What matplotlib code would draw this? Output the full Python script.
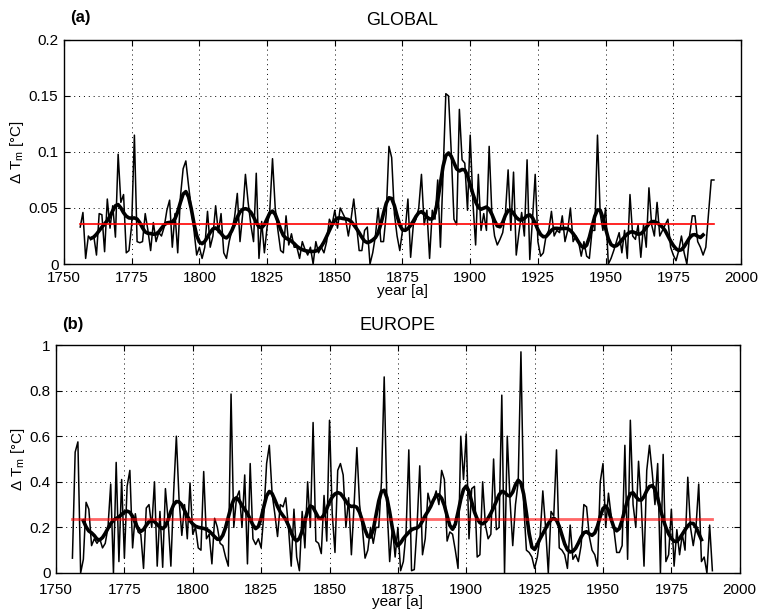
import matplotlib
matplotlib.use("Agg")
import matplotlib.pyplot as plt
import numpy as np
from matplotlib.ticker import FormatStrFormatter

plt.rcParams["font.family"] = ["Liberation Sans", "DejaVu Sans"]
plt.rcParams["mathtext.default"] = "regular"
plt.rcParams["xtick.direction"] = "in"
plt.rcParams["ytick.direction"] = "in"
plt.rcParams["xtick.top"] = True
plt.rcParams["ytick.right"] = True

years = np.arange(1756, 1991)

# annual values
glob_vals = [
    0.033, 0.046, 0.005, 0.025, 0.022, 0.025, 0.008, 0.045, 0.044, 0.011,  # 1756-1765
    0.058, 0.032, 0.052, 0.024, 0.098, 0.055, 0.062, 0.010, 0.012, 0.035,  # 1766-1775
    0.115, 0.020, 0.019, 0.020, 0.045, 0.030, 0.012, 0.037, 0.020, 0.028,  # 1776-1785
    0.025, 0.033, 0.048, 0.057, 0.015, 0.045, 0.010, 0.060, 0.085, 0.092,  # 1786-1795
    0.070, 0.050, 0.030, 0.008, 0.015, 0.005, 0.015, 0.047, 0.015, 0.025,  # 1796-1805
    0.052, 0.028, 0.045, 0.010, 0.005, 0.020, 0.030, 0.042, 0.063, 0.020,  # 1806-1815
    0.045, 0.080, 0.055, 0.035, 0.020, 0.081, 0.005, 0.038, 0.010, 0.033,  # 1816-1825
    0.048, 0.094, 0.050, 0.030, 0.012, 0.010, 0.043, 0.017, 0.027, 0.015,  # 1826-1835
    0.015, 0.005, 0.020, 0.013, 0.008, 0.015, 0.000, 0.020, 0.010, 0.015,  # 1836-1845
    0.010, 0.020, 0.040, 0.035, 0.048, 0.032, 0.050, 0.045, 0.040, 0.025,  # 1846-1855
    0.040, 0.058, 0.035, 0.012, 0.012, 0.030, 0.033, 0.000, 0.010, 0.025,  # 1856-1865
    0.050, 0.020, 0.020, 0.045, 0.105, 0.095, 0.045, 0.025, 0.012, 0.030,  # 1866-1875
    0.030, 0.058, 0.006, 0.035, 0.040, 0.050, 0.080, 0.035, 0.048, 0.005,  # 1876-1885
    0.048, 0.040, 0.075, 0.015, 0.082, 0.152, 0.150, 0.100, 0.040, 0.035,  # 1886-1895
    0.138, 0.093, 0.090, 0.048, 0.115, 0.055, 0.017, 0.080, 0.030, 0.045,  # 1896-1905
    0.030, 0.105, 0.045, 0.025, 0.017, 0.022, 0.028, 0.045, 0.084, 0.030,  # 1906-1915
    0.082, 0.008, 0.028, 0.046, 0.025, 0.093, 0.004, 0.040, 0.080, 0.020,  # 1916-1925
    0.007, 0.010, 0.025, 0.030, 0.047, 0.025, 0.030, 0.028, 0.043, 0.020,  # 1926-1935
    0.030, 0.050, 0.020, 0.025, 0.020, 0.007, 0.020, 0.007, 0.005, 0.030,  # 1936-1945
    0.030, 0.115, 0.045, 0.030, 0.050, 0.000, 0.005, 0.012, 0.020, 0.028,  # 1946-1955
    0.010, 0.030, 0.005, 0.062, 0.025, 0.022, 0.035, 0.006, 0.035, 0.015,  # 1956-1965
    0.068, 0.035, 0.025, 0.055, 0.025, 0.030, 0.035, 0.040, 0.015, 0.008,  # 1966-1975
    0.003, 0.012, 0.025, 0.010, 0.000, 0.025, 0.043, 0.043, 0.020, 0.015,  # 1976-1985
    0.008, 0.015, 0.045, 0.075, 0.075,                                     # 1986-1990
]
glob_mean = 0.0355

euro_vals = [
    0.065, 0.530, 0.575, 0.000, 0.060, 0.310, 0.280, 0.120, 0.150, 0.130,  # 1756-1765
    0.150, 0.110, 0.130, 0.200, 0.390, 0.000, 0.485, 0.050, 0.410, 0.065,  # 1766-1775
    0.380, 0.450, 0.110, 0.260, 0.180, 0.170, 0.020, 0.285, 0.300, 0.200,  # 1776-1785
    0.400, 0.030, 0.270, 0.025, 0.370, 0.230, 0.030, 0.350, 0.600, 0.320,  # 1786-1795
    0.165, 0.300, 0.150, 0.395, 0.170, 0.200, 0.110, 0.100, 0.445, 0.150,  # 1796-1805
    0.170, 0.040, 0.240, 0.200, 0.130, 0.120, 0.070, 0.030, 0.785, 0.200,  # 1806-1815
    0.330, 0.360, 0.200, 0.430, 0.040, 0.480, 0.150, 0.125, 0.150, 0.110,  # 1816-1825
    0.260, 0.480, 0.560, 0.350, 0.260, 0.160, 0.300, 0.290, 0.330, 0.200,  # 1826-1835
    0.030, 0.280, 0.070, 0.010, 0.270, 0.110, 0.400, 0.200, 0.660, 0.140,  # 1836-1845
    0.130, 0.085, 0.340, 0.140, 0.670, 0.260, 0.090, 0.450, 0.480, 0.430,  # 1846-1855
    0.200, 0.330, 0.080, 0.300, 0.550, 0.300, 0.200, 0.065, 0.100, 0.200,  # 1856-1865
    0.130, 0.200, 0.200, 0.400, 0.860, 0.300, 0.050, 0.200, 0.070, 0.200,  # 1866-1875
    0.010, 0.050, 0.180, 0.540, 0.010, 0.015, 0.200, 0.470, 0.080, 0.150,  # 1876-1885
    0.350, 0.300, 0.320, 0.360, 0.300, 0.450, 0.410, 0.140, 0.180, 0.170,  # 1886-1895
    0.100, 0.020, 0.600, 0.410, 0.610, 0.150, 0.370, 0.380, 0.070, 0.080,  # 1896-1905
    0.400, 0.210, 0.150, 0.170, 0.500, 0.190, 0.200, 0.780, 0.000, 0.600,  # 1906-1915
    0.320, 0.120, 0.300, 0.400, 0.970, 0.300, 0.100, 0.090, 0.070, 0.020,  # 1916-1925
    0.070, 0.160, 0.360, 0.200, 0.000, 0.270, 0.250, 0.540, 0.110, 0.100,  # 1926-1935
    0.080, 0.020, 0.210, 0.060, 0.080, 0.050, 0.120, 0.300, 0.290, 0.160,  # 1936-1945
    0.100, 0.080, 0.030, 0.400, 0.480, 0.200, 0.350, 0.250, 0.190, 0.090,  # 1946-1955
    0.090, 0.120, 0.560, 0.060, 0.670, 0.300, 0.200, 0.490, 0.300, 0.030,  # 1956-1965
    0.450, 0.560, 0.440, 0.300, 0.480, 0.000, 0.520, 0.050, 0.080, 0.280,  # 1966-1975
    0.030, 0.190, 0.080, 0.170, 0.100, 0.420, 0.200, 0.120, 0.200, 0.390,  # 1976-1985
    0.050, 0.070, 0.000, 0.210, 0.010,                                     # 1986-1990
]
euro_mean = 0.238


def smooth9(v):
    # 9-year weighted running mean, like the thick curve of the original
    w = np.hanning(11)[1:-1]
    return np.convolve(v, w / w.sum(), mode="valid")


fig = plt.figure(figsize=(7.58, 6.14), dpi=100)
ax1 = fig.add_axes([0.0844, 0.570, 0.8932, 0.365])
ax2 = fig.add_axes([0.0739, 0.0668, 0.902, 0.3713])

panels = [
    (ax1, glob_vals, glob_mean, "GLOBAL", "(a)", 0.2, [0, 0.05, 0.1, 0.15, 0.2], 1.2, 1.0, 0.10, 5),
    (ax2, euro_vals, euro_mean, "EUROPE", "(b)", 1.0, [0, 0.2, 0.4, 0.6, 0.8, 1.0], 2.0, 0.6, 0.088, 7),
]

for ax, vals, mean, title, tag, ymax, yticks, rlw, ralpha, tag_y, xpad in panels:
    vals = np.array(vals)
    ax.plot(years, vals, color="black", linewidth=1.1)
    ax.plot(years[4:-4], smooth9(vals), color="black", linewidth=2.6)
    ax.plot([years[0], years[-1]], [mean, mean], color="red", linewidth=rlw, alpha=ralpha)
    ax.set_xlim(1750, 2000)
    ax.set_ylim(0, ymax)
    ax.set_xticks([1750, 1775, 1800, 1825, 1850, 1875, 1900, 1925, 1950, 1975, 2000])
    ax.set_yticks(yticks)
    ax.yaxis.set_major_formatter(FormatStrFormatter("%g"))
    ax.tick_params(labelsize=11, length=4, width=0.8)
    ax.tick_params(axis="x", pad=xpad)
    ax.tick_params(axis="y", pad=4)
    ax.grid(True, linestyle=(0, (1, 4)), color="black", linewidth=0.7)
    for s in ax.spines.values():
        s.set_linewidth(1.0)
    ax.set_xlabel("year [a]", fontsize=11, labelpad=-1)
    ax.set_ylabel("$\\Delta$ T$_m$ [°C]", fontsize=11, labelpad=2)
    ax.set_title(title, fontsize=13, pad=11)
    ax.text(0.009, 1 + tag_y, tag, transform=ax.transAxes, fontsize=12,
            fontweight="bold", ha="left", va="center")

fig.savefig("out.png", dpi=100)
